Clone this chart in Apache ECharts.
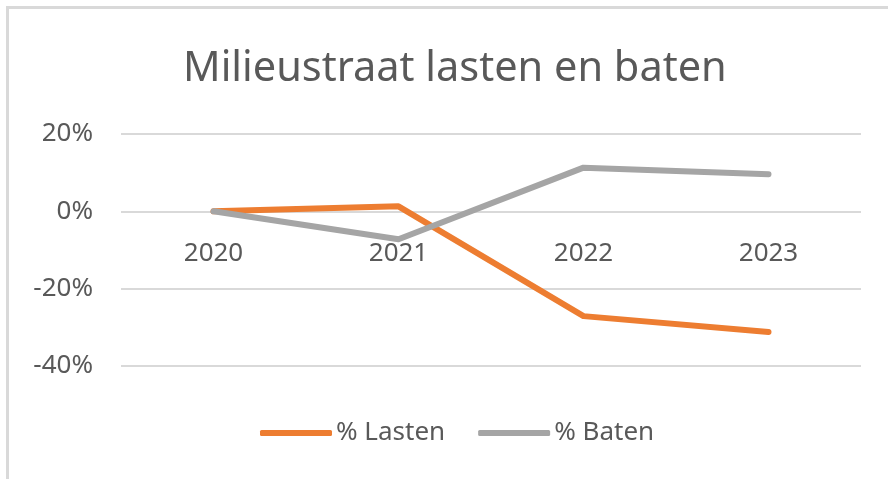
<!DOCTYPE html>
<html>
<head>
<meta charset="utf-8">
<script src="https://cdn.jsdelivr.net/npm/echarts@6/dist/echarts.min.js"></script>
<style>
  html, body { margin: 0; padding: 0; background: #fff; }
  #frame {
    position: absolute; left: 6px; top: 6px; width: 900px; height: 500px;
    border-left: 3px solid #d9d9d9; border-top: 3px solid #d9d9d9;
  }
  #chart { position: absolute; left: 0; top: 0; width: 888px; height: 479px; }
</style>
</head>
<body>
<div id="frame"></div>
<div id="chart"></div>
<script>
// jaren
var jaren = ['2020', '2021', '2022', '2023']
// procentuele verandering
var lasten = [0, 1.3, -27.1, -31.2]
var baten = [0, -7.2, 11.3, 9.6]
// y-as
var yMin = -40
var yMax = 20
var yStap = 20

var myChart = echarts.init(document.getElementById('chart'))
var tekst = '#595959'
var font = 'Noto Sans'

var gridTop = 134
var gridBottom = 113
var gridHoogte = 479 - gridTop - gridBottom
// x-as op de 0%-lijn zetten (offset vanaf de onderrand)
var nulOffset = -gridHoogte * (0 - yMin) / (yMax - yMin)

var option = {
  animation: false,
  title: {
    text: 'Milieustraat lasten en baten',
    left: 178,
    top: 43,
    textStyle: { color: tekst, fontFamily: font, fontSize: 41.5, fontWeight: 'normal' }
  },
  legend: {
    data: ['% Lasten', '% Baten'],
    bottom: 28,
    left: 255,
    itemWidth: 72,
    itemHeight: 6,
    itemGap: 33,
    icon: 'roundRect',
    textStyle: { color: tekst, fontFamily: font, fontSize: 26, padding: [0, 0, 0, -1] }
  },
  grid: { left: 121, right: 27, top: gridTop, bottom: gridBottom },
  xAxis: {
    type: 'category',
    data: jaren,
    offset: nulOffset,
    axisLine: { show: false, onZero: false },
    axisTick: { show: false },
    axisLabel: { color: tekst, fontFamily: font, fontSize: 26, margin: 29 }
  },
  yAxis: {
    type: 'value',
    min: yMin,
    max: yMax,
    interval: yStap,
    axisLabel: {
      color: tekst, fontFamily: font, fontSize: 26, margin: 28,
      formatter: function (v) { return v + '%' }
    },
    splitLine: { lineStyle: { color: '#d9d9d9', width: 2 } }
  },
  series: [
    {
      name: '% Lasten',
      type: 'line',
      data: lasten,
      symbol: 'none',
      lineStyle: { color: '#ED7D31', width: 6, cap: 'round', join: 'round' },
      itemStyle: { color: '#ED7D31' }
    },
    {
      name: '% Baten',
      type: 'line',
      data: baten,
      symbol: 'none',
      lineStyle: { color: '#A5A5A5', width: 6, cap: 'round', join: 'round' },
      itemStyle: { color: '#A5A5A5' }
    }
  ]
}
myChart.setOption(option)
window.addEventListener('resize', () => {
  myChart.resize()
})
</script>
</body>
</html>
